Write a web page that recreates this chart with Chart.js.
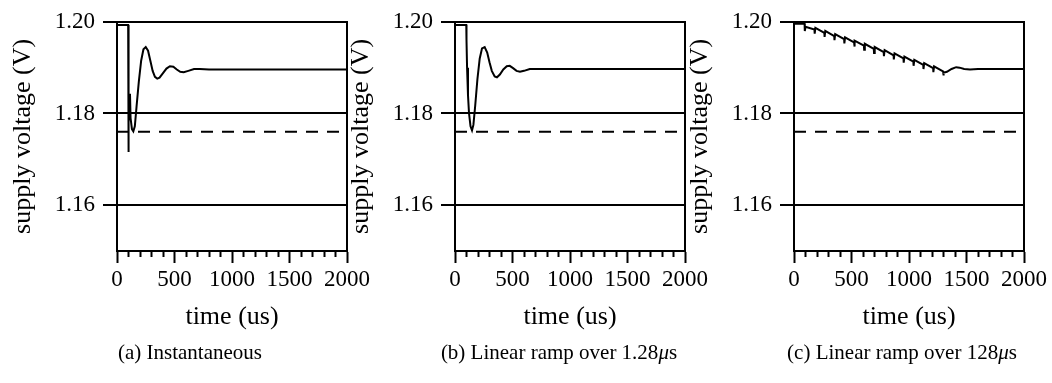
<!DOCTYPE html>
<html>
<head>
<meta charset="utf-8">
<script src="https://cdn.jsdelivr.net/npm/chart.js@4.4.1/dist/chart.umd.min.js"></script>
<style>
  html, body { margin: 0; padding: 0; background: #fff; }
  body { width: 1052px; height: 383px; position: relative; overflow: hidden; }
  .panel { position: absolute; top: 0; }
  .cap { position: absolute; top: 338px; width: 420px; text-align: center;
         font-family: 'Liberation Serif', 'Times New Roman', serif; font-size: 21px;
         line-height: 28px; color: #000; white-space: nowrap; }
</style>
</head>
<body>
<canvas id="ca" class="panel" width="377" height="340" style="left:0px"></canvas>
<canvas id="cb" class="panel" width="377" height="340" style="left:338px"></canvas>
<canvas id="cc" class="panel" width="377" height="340" style="left:677px"></canvas>
<div class="cap" style="left:-20px">(a) Instantaneous</div>
<div class="cap" style="left:349px">(b) Linear ramp over 1.28<i>μ</i>s</div>
<div class="cap" style="left:692px">(c) Linear ramp over 128<i>μ</i>s</div>
<script>
// ---- data ----
const yTickValues = [1.16, 1.18, 1.20];
const xMajorStep = 500;
const thresholdTimes = [0, 2000];
const thresholdVolts = [1.176, 1.176];

const aTimes = [0, 97, 98, 100, 104, 113, 118, 130, 142, 155, 170, 190, 210, 230, 250, 270, 290, 310, 330, 350, 370, 400, 430, 460, 490, 520, 550, 580, 620, 670, 720, 800, 2000];
const aVolts = [1.1993, 1.1993, 1.1716, 1.1937, 1.1780, 1.1843, 1.1790, 1.1766, 1.1761, 1.1772, 1.1815, 1.1870, 1.1915, 1.1940, 1.1945, 1.1937, 1.1915, 1.1893, 1.1880, 1.1876, 1.1878, 1.1888, 1.1898, 1.1903, 1.1902, 1.1896, 1.1891, 1.1890, 1.1893, 1.1897, 1.1897, 1.1896, 1.1896];

const bTimes = [0, 98, 100, 105, 113, 122, 135, 148, 160, 175, 195, 215, 235, 258, 280, 300, 320, 345, 365, 390, 420, 450, 476, 505, 535, 565, 600, 650, 720, 2000];
const bVolts = [1.1993, 1.1993, 1.1960, 1.1900, 1.1840, 1.1800, 1.1772, 1.1763, 1.1775, 1.1815, 1.1875, 1.1920, 1.1942, 1.1945, 1.1933, 1.1912, 1.1893, 1.1881, 1.1879, 1.1885, 1.1896, 1.1903, 1.1904, 1.1899, 1.1893, 1.1891, 1.1893, 1.1897, 1.1897, 1.1897];

const cTimes = [0,
  92, 94, 100,
  178, 180, 186,
  264, 266, 272,
  350, 352, 358,
  436, 438, 444,
  522, 524, 530,
  608, 610, 616,
  694, 696, 702,
  780, 782, 788,
  866, 868, 874,
  952, 954, 960,
  1038, 1040, 1046,
  1124, 1126, 1132,
  1210, 1212, 1218,
  1296, 1298, 1304,
  1330, 1370, 1410, 1440, 1480, 1530, 1600, 2000];
const cVolts = [1.1996,
  1.1996, 1.1980, 1.1989,
  1.1983, 1.1974, 1.1987,
  1.1976, 1.1967, 1.1980,
  1.1969, 1.1960, 1.1973,
  1.1962, 1.1953, 1.1966,
  1.1955, 1.1946, 1.1959,
  1.1948, 1.1939, 1.1952,
  1.1941, 1.1932, 1.1945,
  1.1934, 1.1925, 1.1938,
  1.1927, 1.1918, 1.1931,
  1.1920, 1.1911, 1.1924,
  1.1913, 1.1904, 1.1917,
  1.1906, 1.1897, 1.1910,
  1.1899, 1.1890, 1.1903,
  1.1892, 1.1883, 1.1889,
  1.1891, 1.1897, 1.1901, 1.1900, 1.1897, 1.1896, 1.1897, 1.1897];

const xTitle = 'time (us)';
const yTitle = 'supply voltage (V)';

// ---- chart construction ----
const FONT = "'Liberation Serif', 'Times New Roman', serif";
const pts = (xs, ys) => xs.map((x, i) => ({ x: x, y: ys[i] }));

function makePanel(id, times, volts) {
  new Chart(document.getElementById(id), {
    type: 'line',
    data: {
      datasets: [
        { data: pts(times, volts), borderColor: '#000', borderWidth: 2, pointRadius: 0, tension: 0, fill: false },
        { data: pts(thresholdTimes, thresholdVolts), borderColor: '#000', borderWidth: 2, borderDash: [12, 9], pointRadius: 0, fill: false }
      ]
    },
    options: {
      responsive: false,
      animation: false,
      devicePixelRatio: 1,
      layout: { padding: { top: 21, left: 0, right: 30, bottom: 0 } },
      plugins: { legend: { display: false }, tooltip: { enabled: false }, title: { display: false } },
      scales: {
        x: {
          type: 'linear', position: 'bottom', min: 0, max: 2000,
          afterFit: s => { s.height = 89; },
          border: { display: true, color: '#000', width: 2 },
          grid: {
            drawOnChartArea: false, drawTicks: true, tickLength: 12, color: '#000',
            tickWidth: 2,
            tickBorderDash: c => (c.tick && c.tick.value % xMajorStep === 0) ? [] : [5, 40]
          },
          ticks: {
            stepSize: 100, autoSkip: false, maxRotation: 0, padding: 3, color: '#000',
            font: { family: FONT, size: 23 },
            callback: v => (v % xMajorStep === 0 ? String(v) : '')
          },
          title: { display: true, text: xTitle, color: '#000', font: { family: FONT, size: 26 }, padding: { top: 0, bottom: 7 } }
        },
        y: {
          type: 'linear', position: 'left', min: 1.15, max: 1.20,
          afterBuildTicks: s => { s.ticks = yTickValues.map(v => ({ value: v })); },
          afterFit: s => { s.width = 117; },
          border: { display: true, color: '#000', width: 2 },
          grid: { drawOnChartArea: true, drawTicks: true, tickLength: 14, color: '#000', lineWidth: 2 },
          ticks: { padding: 8, color: '#000', font: { family: FONT, size: 23 }, callback: v => Number(v).toFixed(2) },
          title: { display: true, text: yTitle, color: '#000', font: { family: FONT, size: 26 }, padding: { top: 8, bottom: 0 } }
        },
        y2: {
          type: 'linear', position: 'right', min: 1.15, max: 1.20,
          afterFit: s => { s.width = 0; },
          border: { display: true, color: '#000', width: 2 },
          grid: { display: false, drawTicks: false },
          ticks: { display: false }
        }
      }
    }
  });
}

makePanel('ca', aTimes, aVolts);
makePanel('cb', bTimes, bVolts);
makePanel('cc', cTimes, cVolts);
</script>
</body>
</html>
